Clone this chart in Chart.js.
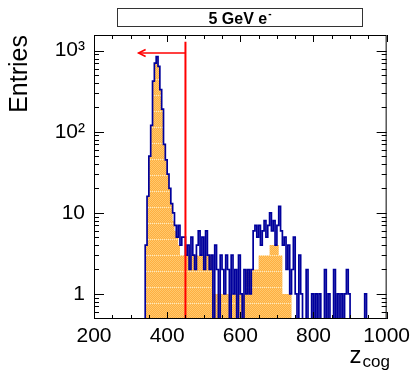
<!DOCTYPE html>
<html><head><meta charset="utf-8">
<script src="https://cdn.jsdelivr.net/npm/chart.js@4.4.1/dist/chart.umd.min.js"></script>
<style>html,body{margin:0;padding:0;background:#fff;}canvas{display:block;}</style>
</head><body>
<canvas id="c" width="415" height="371"></canvas>
<script>
// ---- texts ----
const titleText = '5 GeV e';
const titleSup = '-';
const xTitle = 'z';
const xTitleSub = 'cog';
const yTitle = 'Entries';
// ---- axes ----
const xRange = [200, 1000];
const yRange = [0.49, 1560];
const xTickValues = [200, 400, 600, 800, 1000];
const xTickLabels = ['200', '400', '600', '800', '1000'];
const yTickValues = [1, 10, 100, 1000];
const yTickLabels = ['1', '10', '10²', '10³'];
// ---- histogram binning (lower edge of first listed bin, bin width) ----
const firstBinEdge = 340;
const binWidth = 5;
// fine histogram, blue outline (bins 340 ... 995)
const entriesLine = [
  0, 4, 16, 50, 120, 420, 700, 843, 640, 330,
  190, 70, 45, 30, 20, 13, 10, 7, 5, 7,
  4, 5, 5, 3, 4, 2, 5, 3, 2, 4,
  6, 3, 5, 2, 6, 3, 2, 3, 0, 4,
  2, 0, 3, 2, 1, 3, 2, 0, 3, 1,
  2, 0, 3, 1, 0, 2, 1, 2, 1, 2,
  6, 7, 5, 7, 4, 6, 8, 5, 7, 10,
  6, 8, 4, 7, 12, 6, 4, 5, 2, 4,
  1, 2, 5, 1, 0, 3, 1, 0, 0, 2,
  0, 0, 1, 0, 1, 0, 1, 0, 0, 2,
  0, 1, 0, 0, 2, 0, 1, 0, 1, 0,
  1, 2, 1, 0, 0, 0, 0, 0, 0, 0,
  0, 1, 0, 0, 0, 0, 0, 0, 0, 0,
  0, 0
];
// filled histogram, orange (bins 340 ... 995)
const entriesFill = [
  0, 4, 16, 50, 120, 420, 700, 843, 640, 330,
  190, 70, 45, 30, 20, 13, 8, 6, 5, 4,
  3, 3, 3, 3, 3, 3, 3, 3, 3, 3,
  3, 3, 3, 3, 3, 3, 3, 3, 1, 1,
  1, 1, 1, 1, 1, 1, 1, 1, 1, 1,
  1, 1, 1, 1, 1, 1, 2, 2, 2, 2,
  2, 2, 2, 3, 3, 3, 3, 3, 3, 4,
  4, 4, 4, 4, 3, 3, 1, 1, 1, 1,
  1, 0, 0, 0, 0, 0, 0, 0, 0, 0,
  0, 0, 0, 0, 0, 0, 0, 0, 0, 0,
  0, 0, 0, 0, 0, 0, 0, 0, 0, 0,
  0, 0, 0, 0, 0, 0, 0, 0, 0, 0,
  0, 0, 0, 0, 0, 0, 0, 0, 0, 0,
  0, 0
];
// ---- cut marker ----
const cutValue = 450;
const cutLineTop = 1290;
const arrowLevel = 935;
const arrowTip = 322;

const FONT = '"Liberation Sans", Arial, Helvetica, sans-serif';
Chart.defaults.font.family = FONT;
Chart.defaults.color = '#000';

function histPoints(counts) {
  const floor = yRange[0];
  const pts = [{x: xRange[0], y: floor}];
  counts.forEach((c, i) => pts.push({x: firstBinEdge + i * binWidth, y: c > 0 ? c : floor}));
  pts.push({x: firstBinEdge + counts.length * binWidth, y: floor});
  return pts;
}

function makePattern(ctx) {
  const p = document.createElement('canvas');
  p.width = 4; p.height = 16;
  const g = p.getContext('2d');
  g.fillStyle = '#ffae40'; g.fillRect(0, 0, 4, 16);
  g.fillStyle = '#ffc96c';
  for (let yy = 0; yy < 16; yy++) for (let xx = 0; xx < 4; xx++) if ((xx + yy) % 2 === 0) g.fillRect(xx, yy, 1, 1);
  g.fillStyle = '#ffe6bb';
  g.fillRect(0, 15, 1, 1); g.fillRect(2, 15, 1, 1);
  return ctx.createPattern(p, 'repeat');
}

const rootStyle = {
  id: 'rootStyle',
  afterDatasetsDraw(chart) {
    const {ctx, chartArea: a, scales: {x, y}} = chart;
    ctx.save();
    // cut line and arrow
    ctx.strokeStyle = '#ff0000';
    ctx.lineWidth = 2;
    const cx = x.getPixelForValue(cutValue);
    ctx.beginPath(); ctx.moveTo(cx, a.bottom); ctx.lineTo(cx, y.getPixelForValue(cutLineTop)); ctx.stroke();
    const ay = Math.round(y.getPixelForValue(arrowLevel));
    const tx = x.getPixelForValue(arrowTip);
    ctx.lineWidth = 1.6;
    ctx.beginPath(); ctx.moveTo(cx, ay); ctx.lineTo(tx, ay); ctx.stroke();
    ctx.beginPath(); ctx.moveTo(tx + 7, ay - 3.5); ctx.lineTo(tx, ay); ctx.lineTo(tx + 7, ay + 3.5); ctx.stroke();
    // frame
    ctx.strokeStyle = '#000';
    ctx.lineWidth = 1;
    ctx.strokeRect(a.left + 0.5, a.top + 0.5, a.right - a.left - 1, a.bottom - a.top - 1);
    // inner ticks: y
    const yMaj = 10, yMin = 5, xMaj = 7, xMin = 4;
    ctx.beginPath();
    [0.1, 1, 10, 100, 1000].forEach(d => {
      for (let k = 1; k <= 9; k++) {
        const v = k * d;
        if (v < yRange[0] || v > yRange[1]) continue;
        const py = Math.round(y.getPixelForValue(v)) + 0.5;
        const len = k === 1 ? yMaj : yMin;
        ctx.moveTo(a.left, py); ctx.lineTo(a.left + len, py);
        ctx.moveTo(a.right, py); ctx.lineTo(a.right - len, py);
      }
    });
    // inner ticks: x
    for (let v = xRange[0]; v <= xRange[1]; v += 50) {
      const px = Math.round(x.getPixelForValue(v)) + 0.5;
      const len = (v % 200 === 0) ? xMaj : xMin;
      ctx.moveTo(px, a.bottom); ctx.lineTo(px, a.bottom - len);
      ctx.moveTo(px, a.top); ctx.lineTo(px, a.top + len);
    }
    ctx.stroke();
    ctx.restore();
  },
  afterDraw(chart) {
    const {ctx} = chart;
    ctx.save();
    // title box
    ctx.fillStyle = '#fff';
    ctx.fillRect(117, 8, 246, 19);
    ctx.strokeStyle = '#333';
    ctx.lineWidth = 1;
    ctx.strokeRect(117.5, 8.5, 245, 18);
    ctx.fillStyle = '#000';
    ctx.textBaseline = 'alphabetic';
    ctx.textAlign = 'left';
    ctx.font = 'bold 16px ' + FONT;
    const w1 = ctx.measureText(titleText).width;
    ctx.font = 'bold 10px ' + FONT;
    const w2 = ctx.measureText(titleSup).width;
    const sx = 240 - (w1 + w2 + 1) / 2;
    ctx.font = 'bold 16px ' + FONT;
    ctx.fillText(titleText, sx, 24);
    ctx.font = 'bold 10px ' + FONT;
    ctx.fillText(titleSup, sx + w1 + 1, 17);
    // x title with subscript
    ctx.font = '24px ' + FONT;
    const wz = ctx.measureText(xTitle).width;
    ctx.font = '17px ' + FONT;
    const wc = ctx.measureText(xTitleSub).width;
    const x0 = 390 - (wz + 1 + wc);
    ctx.font = '24px ' + FONT;
    ctx.fillText(xTitle, x0, 363);
    ctx.font = '17px ' + FONT;
    ctx.fillText(xTitleSub, x0 + wz + 1, 367);
    ctx.restore();
  }
};

const ctx = document.getElementById('c').getContext('2d');
new Chart(ctx, {
  type: 'line',
  data: {
    datasets: [
      { label: 'filled', data: histPoints(entriesFill), stepped: 'after', borderWidth: 0,
        borderColor: 'rgba(0,0,0,0)', backgroundColor: makePattern(ctx), fill: 'start',
        pointRadius: 0, clip: 0, order: 2 },
      { label: 'line', data: histPoints(entriesLine), stepped: 'after', borderWidth: 1.7,
        borderColor: '#00009c', fill: false, pointRadius: 0, clip: 0, order: 1 }
    ]
  },
  options: {
    responsive: false, animation: false, devicePixelRatio: 1,
    layout: { padding: { top: 35, right: 25, left: 0, bottom: 0 } },
    plugins: { legend: { display: false }, tooltip: { enabled: false }, title: { display: false } },
    scales: {
      x: {
        type: 'linear', min: xRange[0], max: xRange[1],
        grid: { display: false, drawTicks: false }, border: { display: false },
        afterBuildTicks: s => { s.ticks = xTickValues.map(v => ({ value: v })); },
        ticks: { font: { size: 21 }, color: '#000', padding: 5, maxRotation: 0, autoSkip: false,
                 callback: v => xTickLabels[xTickValues.indexOf(v)] },
        afterFit: s => { s.height = 52; }
      },
      y: {
        type: 'logarithmic', min: yRange[0], max: yRange[1],
        grid: { display: false, drawTicks: false }, border: { display: false },
        afterBuildTicks: s => { s.ticks = yTickValues.map(v => ({ value: v })); },
        ticks: { font: { size: 21 }, color: '#000', padding: 9, autoSkip: false,
                 callback: v => { const i = yTickValues.indexOf(v); return i >= 0 ? yTickLabels[i] : ''; } },
        title: { display: true, text: yTitle, align: 'end', font: { size: 25 }, color: '#000',
                 padding: { top: 5, bottom: 0 } },
        afterFit: s => { s.width = 94; }
      }
    }
  },
  plugins: [rootStyle]
});
</script>
</body></html>
